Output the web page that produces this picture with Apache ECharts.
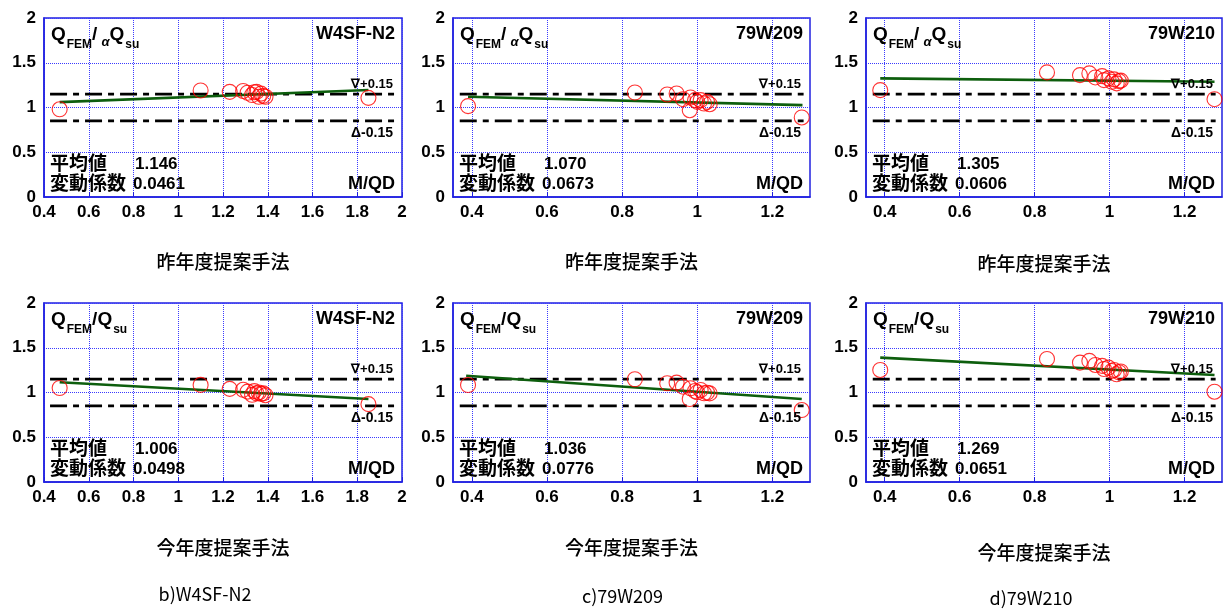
<!DOCTYPE html>
<html><head><meta charset="utf-8">
<script src="https://cdn.jsdelivr.net/npm/echarts@6/dist/echarts.min.js"></script>
<style>html,body{margin:0;padding:0;background:#fff}#c{width:1225px;height:610px}</style>
</head><body><div id="c"></div><script>
// ---------- data ----------
const specimenNames = ['W4SF-N2', '79W209', '79W210'];
const methodLabels = ['昨年度提案手法', '今年度提案手法'];
const captionLabels = ['b)W4SF-N2', 'c)79W209', 'd)79W210'];
const xTickValsNarrow = [0.4, 0.6, 0.8, 1.0, 1.2];
const refBand = [1.15, 0.85];
const bandXWide = [0.427, 1.967];
const bandXNarrow = [0.368, 1.283];

const mqdW4SF = [0.47, 1.10, 1.23, 1.29, 1.31, 1.33, 1.34, 1.35, 1.36, 1.37, 1.38, 1.39, 1.85];
const ratioW4SFPrev = [0.98, 1.19, 1.175, 1.185, 1.165, 1.14, 1.17, 1.175, 1.12, 1.155, 1.13, 1.12, 1.108];
const ratioW4SFCurr = [1.05, 1.085, 1.04, 1.03, 1.01, 0.975, 1.015, 0.99, 1.0, 0.985, 0.99, 0.97, 0.87];

const mqd79W209 = [0.39, 0.834, 0.92, 0.945, 0.962, 0.98, 0.982, 0.994, 1.0, 1.009, 1.018, 1.026, 1.033, 1.278];
const ratio79W209Prev = [1.015, 1.168, 1.146, 1.157, 1.093, 0.97, 1.112, 1.082, 1.063, 1.082, 1.045, 1.063, 1.037, 0.889];
const ratio79W209Curr = [1.084, 1.148, 1.103, 1.11, 1.065, 0.927, 1.047, 1.017, 1.002, 1.028, 0.991, 0.998, 0.99, 0.804];

const mqd79W210 = [0.388, 0.833, 0.921, 0.946, 0.962, 0.98, 0.985, 0.997, 1.006, 1.012, 1.019, 1.025, 1.03, 1.28];
const ratio79W210Prev = [1.194, 1.392, 1.362, 1.381, 1.336, 1.351, 1.306, 1.325, 1.287, 1.314, 1.269, 1.295, 1.30, 1.093];
const ratio79W210Curr = [1.252, 1.375, 1.334, 1.353, 1.308, 1.297, 1.263, 1.278, 1.241, 1.252, 1.204, 1.226, 1.235, 1.009];

const trendW4SFPrev = [[0.47, 1.06], [1.85, 1.195]];
const trendW4SFCurr = [[0.47, 1.114], [1.85, 0.927]];
const trend79W209Prev = [[0.39, 1.12], [1.28, 1.026]];
const trend79W209Curr = [[0.385, 1.188], [1.278, 0.927]];
const trend79W210Prev = [[0.388, 1.325], [1.28, 1.287]];
const trend79W210Curr = [[0.388, 1.39], [1.28, 1.196]];

const meanVals = ['1.146', '1.070', '1.305', '1.006', '1.036', '1.269'];
const cvVals = ['0.0461', '0.0673', '0.0606', '0.0498', '0.0776', '0.0651'];

// ---------- layout ----------
const colLeft = [44, 453, 866];
const colWidth = [358, 357, 356];
const rowTop = [18, 303];
const gridH = 179;
const blue = '#2020e0';
const FONT = '"Liberation Sans", Arial, sans-serif';
const JFONT = '"Noto Sans CJK JP", sans-serif';

const mqdSets = [mqdW4SF, mqd79W209, mqd79W210];
const ratioSets = [[ratioW4SFPrev, ratio79W209Prev, ratio79W210Prev], [ratioW4SFCurr, ratio79W209Curr, ratio79W210Curr]];
const trendSets = [[trendW4SFPrev, trend79W209Prev, trend79W210Prev], [trendW4SFCurr, trend79W209Curr, trend79W210Curr]];

const grids = [], xAxes = [], yAxes = [], series = [], graphics = [];

for (let r = 0; r < 2; r++) {
  for (let c = 0; c < 3; c++) {
    const idx = r * 3 + c;
    const gl = colLeft[c], gt = rowTop[r], gw = colWidth[c];
    grids.push({left: gl, top: gt, width: gw, height: gridH, show: true,
      borderColor: blue, borderWidth: 1.5, backgroundColor: 'transparent'});
    const wide = c === 0;
    const labelStyle = {fontSize: 17, fontWeight: 'bold', color: '#000', fontFamily: FONT};
    const xa = {gridIndex: idx, type: 'value', min: wide ? 0.4 : 0.35, max: wide ? 2 : 1.3,
      axisLine: {show: true, lineStyle: {color: blue, width: 1.5}},
      axisTick: {show: true, inside: true, length: 5, lineStyle: {color: blue, width: 1}},
      axisLabel: Object.assign({margin: 7}, labelStyle),
      splitLine: {show: true, lineStyle: {color: '#3a3aff', type: 'dotted', width: 1}}};
    if (wide) { xa.interval = 0.2; }
    else {
      xa.axisTick.customValues = xTickValsNarrow;
      xa.axisLabel.customValues = xTickValsNarrow;
    }
    xAxes.push(xa);
    yAxes.push({gridIndex: idx, type: 'value', min: 0, max: 2, interval: 0.5,
      axisLine: {show: true, lineStyle: {color: blue, width: 1.5}},
      axisTick: {show: false},
      axisLabel: Object.assign({margin: 8, padding: [0, 0, 3, 0]}, labelStyle),
      splitLine: {show: true, lineStyle: {color: '#3a3aff', type: 'dotted', width: 1}}});

    const bx = wide ? bandXWide : bandXNarrow;
    refBand.forEach(v => {
      series.push({type: 'line', xAxisIndex: idx, yAxisIndex: idx, symbol: 'none', silent: true,
        data: [[bx[0], v], [bx[1], v]],
        lineStyle: {color: '#000', width: 2.7, type: [17, 6, 6, 6]}, z: 2});
    });
    series.push({type: 'line', xAxisIndex: idx, yAxisIndex: idx, symbol: 'none', silent: true,
      data: trendSets[r][c], lineStyle: {color: '#0d5e0d', width: 2.6}, z: 3});
    series.push({type: 'scatter', xAxisIndex: idx, yAxisIndex: idx, symbol: 'circle', symbolSize: 15,
      data: mqdSets[c].map((x, i) => [x, ratioSets[r][c][i]]),
      itemStyle: {color: 'rgba(0,0,0,0)', borderColor: '#ff0000', borderWidth: 1.1}, z: 4});

    // in-plot annotations
    const titleText = r === 0
      ? '{q|Q}{s|FEM}{q|/}{a|α}{q|Q}{s|su}'
      : '{q|Q}{s|FEM}{q|/Q}{s|su}';
    graphics.push({type: 'text', left: gl + 7, top: gt + 7, z: 10,
      style: {text: titleText, fill: '#000',
        rich: {
          q: {fontSize: 19, fontWeight: 'bold', fontFamily: FONT, lineHeight: 20, verticalAlign: 'top'},
          s: {fontSize: 12, fontWeight: 'bold', fontFamily: FONT, lineHeight: 12, padding: [14, 0, 0, 1], verticalAlign: 'top'},
          a: {fontSize: 13, fontWeight: 'bold', fontStyle: 'italic', fontFamily: FONT, lineHeight: 14, padding: [11, 0, 0, 4], verticalAlign: 'top'}
        }}});
    graphics.push({type: 'text', x: gl + gw - 7, y: gt + 16, z: 10,
      style: {text: specimenNames[c], fill: '#000', font: 'bold 18px ' + FONT, textAlign: 'right', textVerticalAlign: 'middle'}});
    graphics.push({type: 'text', x: gl + gw - 9, y: gt + 66, z: 10,
      style: {text: '∇+0.15', fill: '#000', font: 'bold 13px ' + FONT, textAlign: 'right', textVerticalAlign: 'middle'}});
    graphics.push({type: 'text', x: gl + gw - 9, y: gt + 115, z: 10,
      style: {text: 'Δ-0.15', fill: '#000', font: 'bold 14px ' + FONT, textAlign: 'right', textVerticalAlign: 'middle'}});
    graphics.push({type: 'text', x: gl + 6, y: gt + 145, z: 10,
      style: {text: '平均値', fill: '#000', font: 'bold 19px ' + JFONT, textVerticalAlign: 'middle'}});
    graphics.push({type: 'text', x: gl + 6, y: gt + 165, z: 10,
      style: {text: '変動係数', fill: '#000', font: 'bold 19px ' + JFONT, textVerticalAlign: 'middle'}});
    graphics.push({type: 'text', x: gl + 91, y: gt + 146, z: 10,
      style: {text: meanVals[idx], fill: '#000', font: 'bold 17px ' + FONT, textVerticalAlign: 'middle'}});
    graphics.push({type: 'text', x: gl + 89, y: gt + 166, z: 10,
      style: {text: cvVals[idx], fill: '#000', font: 'bold 17px ' + FONT, textVerticalAlign: 'middle'}});
    graphics.push({type: 'text', x: gl + gw - 7, y: gt + 166, z: 10,
      style: {text: 'M/QD', fill: '#000', font: 'bold 18px ' + FONT, textAlign: 'right', textVerticalAlign: 'middle'}});

    // method label below each panel
    const methodY = r === 0 ? [262, 262, 264][c] : [548, 548, 553][c];
    graphics.push({type: 'text', x: gl + gw / 2, y: methodY, z: 10,
      style: {text: methodLabels[r], fill: '#000', font: '500 19px ' + JFONT, textAlign: 'center', textVerticalAlign: 'middle'}});
  }
}
captionLabels.forEach((t, c) => {
  graphics.push({type: 'text', x: colLeft[c] + colWidth[c] / 2 - [18, 9, 13][c], y: [594, 596, 598][c], z: 10,
    style: {text: t, fill: '#000', font: '18px ' + JFONT, textAlign: 'center', textVerticalAlign: 'middle'}});
});

const chart = echarts.init(document.getElementById('c'), null, {renderer: 'canvas'});
chart.setOption({
  animation: false,
  backgroundColor: '#fff',
  grid: grids, xAxis: xAxes, yAxis: yAxes, series: series, graphic: graphics
});
</script></body></html>
